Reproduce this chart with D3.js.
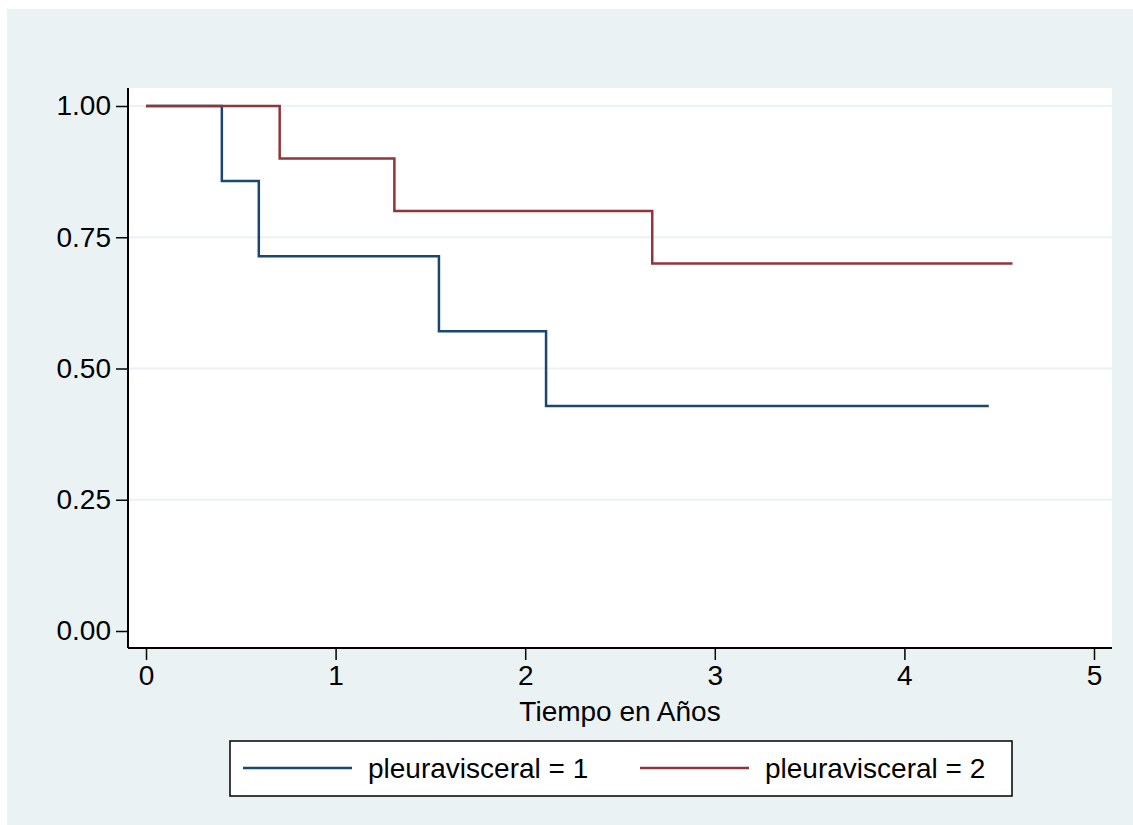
<!DOCTYPE html>
<html>
<head>
<meta charset="utf-8">
<script src="https://cdn.jsdelivr.net/npm/d3@7"></script>
<style>
  body { margin: 0; background: #fff; }
  text { font-family: "Liberation Sans", Arial, sans-serif; fill: #000; }
</style>
</head>
<body>
<svg id="chart" width="1133" height="825"></svg>
<script>
// Kaplan-Meier step data
const times1 = [0, 0.40, 0.595, 1.545, 2.11, 4.445];
const surv1 = [1.00, 0.857, 0.714, 0.571, 0.4286, 0.4286];
const times2 = [0, 0.705, 1.31, 2.67, 4.57];
const surv2 = [1.00, 0.90, 0.80, 0.70, 0.70];
const seriesNames = ['pleuravisceral = 1', 'pleuravisceral = 2'];
const xTicks = [0, 1, 2, 3, 4, 5];
const yTicks = [0, 0.25, 0.5, 0.75, 1];

const colors = ['#1a476f', '#90353b'];
const bg = '#eaf2f3';
const fontSize = '28px';

const svg = d3.select('#chart');

// outer graph region
svg.append('rect')
    .attr('x', 7).attr('y', 9)
    .attr('width', 1126).attr('height', 816)
    .attr('fill', bg);

const plot = { left: 128, right: 1112, top: 88, bottom: 648 };

svg.append('rect')
    .attr('x', plot.left).attr('y', plot.top)
    .attr('width', plot.right - plot.left).attr('height', plot.bottom - plot.top)
    .attr('fill', '#fff');

const x = d3.scaleLinear().domain([0, 5]).range([146, 1094]);
const y = d3.scaleLinear().domain([0, 1]).range([631, 106]);

// grid lines
svg.append('g')
    .selectAll('line')
    .data(yTicks.filter(d => d > 0))
    .enter().append('line')
    .attr('x1', plot.left).attr('x2', plot.right)
    .attr('y1', d => y(d)).attr('y2', d => y(d))
    .attr('stroke', bg)
    .attr('stroke-width', 2);

// y axis
const yAxis = svg.append('g')
    .attr('transform', `translate(${plot.left},0)`)
    .call(d3.axisLeft(y).tickValues(yTicks).tickFormat(d3.format('.2f')).tickSize(12).tickPadding(5));
yAxis.select('.domain').remove();
yAxis.append('line')
    .attr('x1', 0).attr('x2', 0)
    .attr('y1', plot.top).attr('y2', plot.bottom)
    .attr('stroke', '#000').attr('stroke-width', 2);
yAxis.selectAll('.tick line').attr('stroke', '#000').attr('stroke-width', 1.5);
yAxis.selectAll('.tick text')
    .style('font-size', fontSize)
    .style('font-family', '"Liberation Sans", Arial, sans-serif')
    .attr('fill', '#000');

// x axis
const xAxis = svg.append('g')
    .attr('transform', `translate(0,${plot.bottom})`)
    .call(d3.axisBottom(x).tickValues(xTicks).tickFormat(d3.format('d')).tickSize(12).tickPadding(5));
xAxis.select('.domain').remove();
xAxis.append('line')
    .attr('x1', plot.left).attr('x2', plot.right)
    .attr('y1', 0).attr('y2', 0)
    .attr('stroke', '#000').attr('stroke-width', 2);
xAxis.selectAll('.tick line').attr('stroke', '#000').attr('stroke-width', 1.5);
xAxis.selectAll('.tick text')
    .style('font-size', fontSize)
    .style('font-family', '"Liberation Sans", Arial, sans-serif')
    .attr('fill', '#000');

svg.append('text')
    .attr('x', (plot.left + plot.right) / 2)
    .attr('y', 721)
    .attr('text-anchor', 'middle')
    .style('font-size', fontSize)
    .text('Tiempo en Años');

// survival curves
const line = d3.line()
    .x(d => x(d[0]))
    .y(d => y(d[1]))
    .curve(d3.curveStepAfter);

const series = [
    d3.zip(times1, surv1),
    d3.zip(times2, surv2)
];

svg.append('g')
    .selectAll('path')
    .data(series)
    .enter().append('path')
    .attr('d', line)
    .attr('fill', 'none')
    .attr('stroke', (d, i) => colors[i])
    .attr('stroke-width', 2.5);

// legend
const legend = svg.append('g');
legend.append('rect')
    .attr('x', 230).attr('y', 741)
    .attr('width', 782).attr('height', 55)
    .attr('fill', '#fff')
    .attr('stroke', '#000')
    .attr('stroke-width', 1.5);

const keyX = [243, 640];
const item = legend.selectAll('.item')
    .data(seriesNames)
    .enter().append('g')
    .attr('class', 'item')
    .attr('transform', (d, i) => `translate(${keyX[i]},768)`);
item.append('line')
    .attr('x1', 0).attr('x2', 109)
    .attr('stroke', (d, i) => colors[i])
    .attr('stroke-width', 2.5);
item.append('text')
    .attr('x', 125)
    .attr('y', 10)
    .style('font-size', fontSize)
    .text(d => d);
</script>
</body>
</html>
